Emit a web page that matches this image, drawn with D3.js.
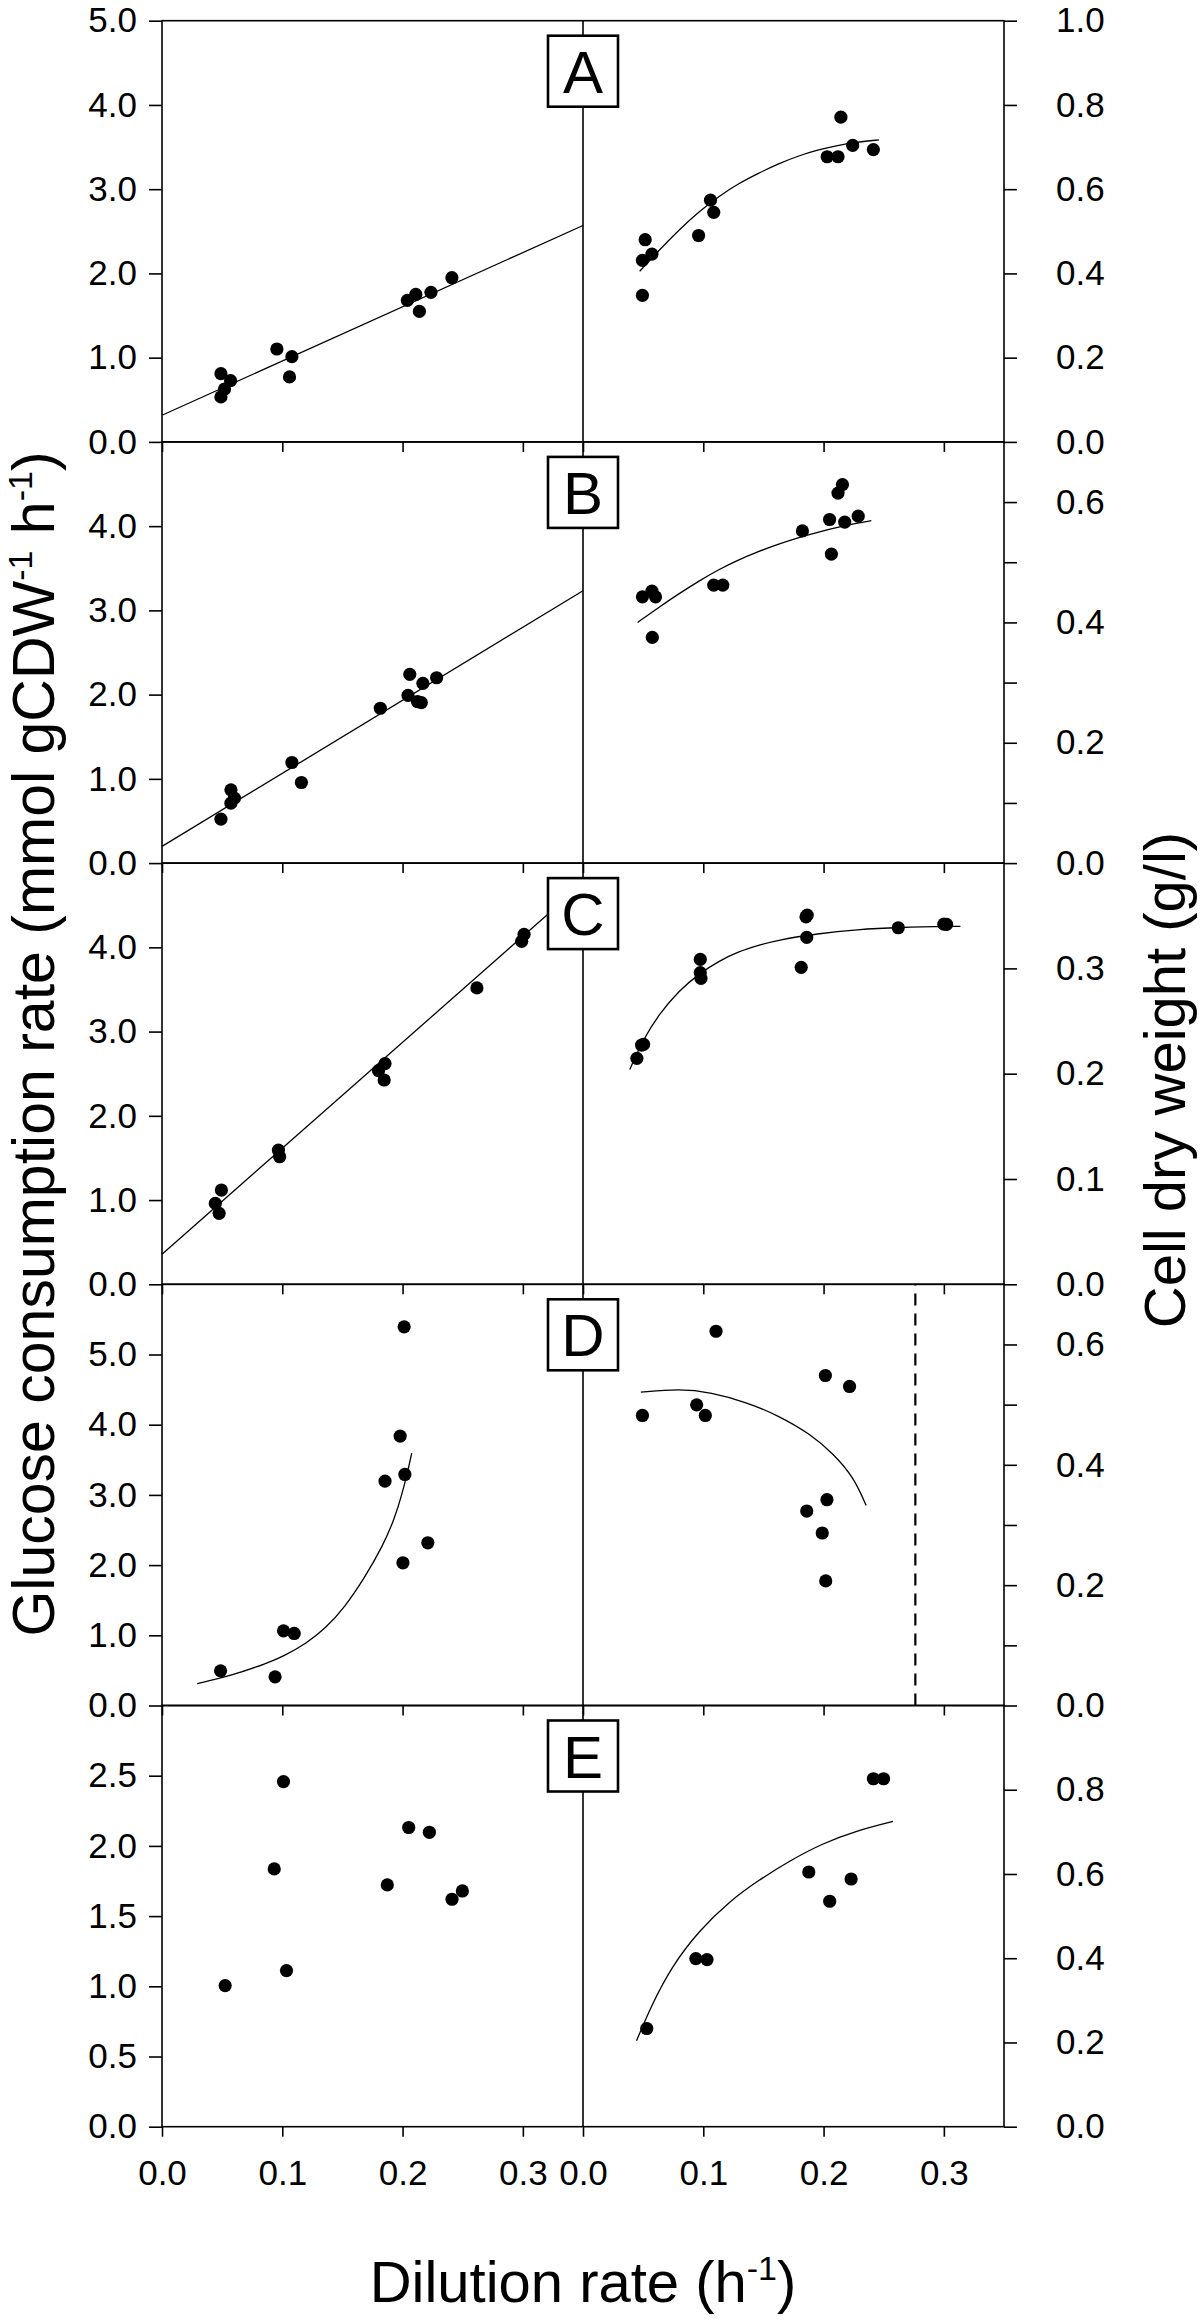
<!DOCTYPE html>
<html>
<head>
<meta charset="utf-8">
<script src="https://cdn.jsdelivr.net/npm/d3@7"></script>
<style>
  body { margin: 0; background: #fff; }
  svg { display: block; font-family: "Liberation Sans", Arial, sans-serif; }
</style>
</head>
<body>
<svg id="chart" width="1200" height="2322"></svg>
<script>
// dilution rate ticks (both halves of every panel)
const D_TICKS = [0, 0.1, 0.2, 0.3];

// left axis: glucose consumption rate ticks per panel
const qTicksA = [0, 1, 2, 3, 4, 5];
const qTicksB = [0, 1, 2, 3, 4];
const qTicksC = [0, 1, 2, 3, 4];
const qTicksD = [0, 1, 2, 3, 4, 5];
const qTicksE = [0, 0.5, 1, 1.5, 2, 2.5];

// right axis: cell dry weight ticks per panel
const cdwTicksA = [0, 0.2, 0.4, 0.6, 0.8, 1.0];
const cdwTicksB = [0, 0.2, 0.4, 0.6];
const cdwMinorB = [0.1, 0.3, 0.5];
const cdwTicksC = [0, 0.1, 0.2, 0.3];
const cdwTicksD = [0, 0.2, 0.4, 0.6];
const cdwMinorD = [0.1, 0.3, 0.5];
const cdwTicksE = [0, 0.2, 0.4, 0.6, 0.8];

// panel A
const qA = [[0.049, 0.81], [0.057, 0.727], [0.052, 0.628], [0.049, 0.534], [0.0955, 1.103],
  [0.108, 1.012], [0.106, 0.771], [0.204, 1.68], [0.211, 1.751], [0.214, 1.549],
  [0.2236, 1.775], [0.241, 1.949]];
const cdwA = [[0.0494, 0.348], [0.0494, 0.431], [0.0517, 0.48], [0.0573, 0.446], [0.0961, 0.49],
  [0.106, 0.574], [0.1087, 0.545], [0.203, 0.677], [0.212, 0.677], [0.2144, 0.771],
  [0.2242, 0.704], [0.2414, 0.694]];
const qFitA = [[0, 0.316], [0.35, 2.569]];
const cdwFitA = [[0.0471, 0.405], [0.0636, 0.456], [0.08, 0.504], [0.0965, 0.547], [0.113, 0.583],
  [0.129, 0.613], [0.146, 0.638], [0.162, 0.66], [0.179, 0.679], [0.195, 0.693],
  [0.2117, 0.704], [0.228, 0.712], [0.246, 0.717]];

// panel B
const qB = [[0.049, 0.522], [0.0573, 0.87], [0.0573, 0.711], [0.0602, 0.771], [0.108, 1.194],
  [0.1159, 0.957], [0.1815, 1.838], [0.2045, 1.992], [0.206, 2.241], [0.2124, 1.917],
  [0.2156, 1.905], [0.2169, 2.134], [0.2283, 2.2]];
const cdwB = [[0.0494, 0.4425], [0.0573, 0.452], [0.0603, 0.4425], [0.0576, 0.375], [0.1087, 0.462],
  [0.1162, 0.462], [0.1824, 0.552], [0.205, 0.571], [0.2065, 0.5135], [0.212, 0.615],
  [0.2157, 0.629], [0.2176, 0.5667], [0.2288, 0.5766]];
const qFitB = [[0, 0.198], [0.35, 3.233]];
const cdwFitB = [[0.0454, 0.4], [0.0636, 0.426], [0.08, 0.448], [0.0965, 0.469], [0.113, 0.488],
  [0.129, 0.504], [0.146, 0.518], [0.162, 0.53], [0.179, 0.541], [0.195, 0.55],
  [0.2117, 0.558], [0.228, 0.565], [0.2397, 0.569]];

// panel C
const qC = [[0.0443, 0.96], [0.0494, 1.119], [0.0475, 0.842], [0.0968, 1.593], [0.0978, 1.514],
  [0.18, 2.536], [0.1854, 2.62], [0.1847, 2.425], [0.2618, 3.518], [0.299, 4.071], [0.301, 4.154]];
const cdwC = [[0.0448, 0.2146], [0.0487, 0.2272], [0.0504, 0.2278], [0.0975, 0.3085], [0.0975, 0.2959],
  [0.0981, 0.2905], [0.1814, 0.301], [0.1854, 0.349], [0.1864, 0.3506], [0.186, 0.3294],
  [0.2621, 0.3386], [0.3, 0.342], [0.3023, 0.3418]];
const qFitC = [[0, 0.356], [0.35, 4.76]];
const cdwFitC = [[0.0389, 0.204], [0.0504, 0.2335], [0.0636, 0.257], [0.08, 0.279], [0.0965, 0.295],
  [0.113, 0.307], [0.129, 0.3158], [0.146, 0.322], [0.162, 0.327], [0.195, 0.333],
  [0.228, 0.337], [0.261, 0.339], [0.3138, 0.34]];

// panel D
const qD = [[0.0487, 0.494], [0.094, 0.408], [0.101, 1.064], [0.1099, 1.026], [0.1854, 3.197],
  [0.198, 3.838], [0.2019, 3.291], [0.2013, 5.394], [0.2003, 2.033], [0.221, 2.318]];
const cdwD = [[0.0494, 0.482], [0.0945, 0.4997], [0.1017, 0.482], [0.1106, 0.622], [0.2015, 0.5484],
  [0.2216, 0.5302], [0.186, 0.3232], [0.2028, 0.342], [0.1989, 0.2867], [0.2018, 0.207]];
const qFitD = [[0.0293, 0.313], [0.0564, 0.418], [0.0882, 0.608], [0.1, 0.693], [0.12, 0.883],
  [0.136, 1.1], [0.1519, 1.4], [0.1678, 1.8], [0.1838, 2.28], [0.1933, 2.66],
  [0.1997, 3.02], [0.2045, 3.35], [0.2076, 3.594]];
const cdwFitD = [[0.0481, 0.5207], [0.08, 0.5263], [0.1064, 0.5207], [0.136, 0.504], [0.1623, 0.482],
  [0.1887, 0.4516], [0.2084, 0.418], [0.2249, 0.3796], [0.2354, 0.3326]];
const washoutD = 0.2763;

// panel E
const qE = [[0.0525, 1.005], [0.0933, 1.836], [0.101, 2.458], [0.1035, 1.112], [0.1873, 1.722],
  [0.2051, 2.131], [0.2223, 2.097], [0.2411, 1.62], [0.2497, 1.679]];
const cdwE = [[0.053, 0.2332], [0.0938, 0.3992], [0.1031, 0.3968], [0.1877, 0.6047], [0.2051, 0.5352],
  [0.2229, 0.5881], [0.2414, 0.8261], [0.2499, 0.8261]];
const cdwFitE = [[0.0445, 0.204], [0.057, 0.2885], [0.0734, 0.379], [0.0965, 0.466], [0.1228, 0.5375],
  [0.1459, 0.585], [0.1722, 0.632], [0.1986, 0.672], [0.2282, 0.7036], [0.2578, 0.725]];

const panels = [
  { id: "A", qMax: 5, cdwMax: 1.0, qTicks: qTicksA, cdwTicks: cdwTicksA, cdwMinor: [],
    q: qA, cdw: cdwA, qFit: qFitA, cdwFit: cdwFitA },
  { id: "B", qMax: 5, cdwMax: 0.7, qTicks: qTicksB, cdwTicks: cdwTicksB, cdwMinor: cdwMinorB,
    q: qB, cdw: cdwB, qFit: qFitB, cdwFit: cdwFitB },
  { id: "C", qMax: 5, cdwMax: 0.4, qTicks: qTicksC, cdwTicks: cdwTicksC, cdwMinor: [],
    q: qC, cdw: cdwC, qFit: qFitC, cdwFit: cdwFitC },
  { id: "D", qMax: 6, cdwMax: 0.7, qTicks: qTicksD, cdwTicks: cdwTicksD, cdwMinor: cdwMinorD,
    q: qD, cdw: cdwD, qFit: qFitD, cdwFit: cdwFitD, washout: washoutD },
  { id: "E", qMax: 3, cdwMax: 1.0, qTicks: qTicksE, cdwTicks: cdwTicksE, cdwMinor: [],
    q: qE, cdw: cdwE, qFit: null, cdwFit: cdwFitE },
];

const X_LEFT = 162;
const X_MID = 583;
const X_RIGHT = 1004;
const TOP = 20.7;
const PANEL_H = 421.2;
const TICK_FONT = 35;
const SUP_SHIFT = 22;

const svg = d3.select("#chart");
const xLeft = d3.scaleLinear().domain([0, 0.35]).range([X_LEFT, X_MID]);
const xRight = d3.scaleLinear().domain([0, 0.35]).range([X_MID, X_RIGHT]);
const fmt = d3.format(".1f");

function styleAxis(sel) {
  sel.attr("font-size", null).attr("font-family", null);
  sel.select(".domain").remove();
  sel.selectAll(".tick line").attr("stroke", "#000").attr("stroke-width", 1.6);
  sel.selectAll(".tick text").attr("fill", "#000").style("font-size", TICK_FONT + "px");
}

function drawPanel(p, i) {
  const top = TOP + i * PANEL_H;
  const bottom = top + PANEL_H;
  const yQ = d3.scaleLinear().domain([0, p.qMax]).range([bottom, top]);
  const yCdw = d3.scaleLinear().domain([0, p.cdwMax]).range([bottom, top]);
  const g = svg.append("g").attr("id", "panel" + p.id);
  const last = i === panels.length - 1;

  // bottom ticks, labels only on the last panel
  [xLeft, xRight].forEach((xs) => {
    g.append("g")
      .attr("transform", `translate(0,${bottom})`)
      .call(d3.axisBottom(xs).tickValues(D_TICKS).tickSize(10).tickPadding(23)
        .tickFormat(last ? fmt : ""))
      .call(styleAxis);
  });

  g.append("g")
    .attr("transform", `translate(${X_LEFT},0)`)
    .call(d3.axisLeft(yQ).tickValues(p.qTicks).tickSize(13).tickPadding(12).tickFormat(fmt))
    .call(styleAxis);

  g.append("g")
    .attr("transform", `translate(${X_RIGHT},0)`)
    .call(d3.axisRight(yCdw).tickValues(p.cdwTicks).tickSize(13).tickPadding(39).tickFormat(fmt))
    .call(styleAxis);

  if (p.cdwMinor.length) {
    g.append("g")
      .attr("transform", `translate(${X_RIGHT},0)`)
      .call(d3.axisRight(yCdw).tickValues(p.cdwMinor).tickSize(13).tickFormat(""))
      .call(styleAxis);
  }

  // frame and the divider between the two halves
  g.append("rect")
    .attr("x", X_LEFT).attr("y", top)
    .attr("width", X_RIGHT - X_LEFT).attr("height", PANEL_H)
    .attr("fill", "none").attr("stroke", "#000").attr("stroke-width", 1.6);
  g.append("line")
    .attr("x1", X_MID).attr("x2", X_MID).attr("y1", top).attr("y2", bottom)
    .attr("stroke", "#000").attr("stroke-width", 1.6);

  if (p.washout) {
    g.append("line")
      .attr("x1", xRight(p.washout)).attr("x2", xRight(p.washout))
      .attr("y1", bottom).attr("y2", top)
      .attr("stroke", "#000").attr("stroke-width", 2.2)
      .attr("stroke-dasharray", "12,8");
  }

  const qLine = d3.line().x((d) => xLeft(d[0])).y((d) => yQ(d[1])).curve(d3.curveBasis);
  const cdwLine = d3.line().x((d) => xRight(d[0])).y((d) => yCdw(d[1])).curve(d3.curveBasis);

  if (p.qFit) {
    g.append("path").attr("d", qLine(p.qFit))
      .attr("fill", "none").attr("stroke", "#000").attr("stroke-width", 1.3);
  }
  if (p.cdwFit) {
    g.append("path").attr("d", cdwLine(p.cdwFit))
      .attr("fill", "none").attr("stroke", "#000").attr("stroke-width", 1.3);
  }

  g.append("g").selectAll("circle").data(p.q).join("circle")
    .attr("cx", (d) => xLeft(d[0])).attr("cy", (d) => yQ(d[1])).attr("r", 6.6).attr("fill", "#000");
  g.append("g").selectAll("circle").data(p.cdw).join("circle")
    .attr("cx", (d) => xRight(d[0])).attr("cy", (d) => yCdw(d[1])).attr("r", 6.6).attr("fill", "#000");

  // panel letter box
  const boxW = 70, boxH = 71, boxTop = top + 15;
  g.append("rect")
    .attr("x", X_MID - boxW / 2).attr("y", boxTop)
    .attr("width", boxW).attr("height", boxH)
    .attr("fill", "#fff").attr("stroke", "#000").attr("stroke-width", 2.6);
  g.append("text")
    .attr("x", X_MID).attr("y", boxTop + boxH / 2)
    .attr("dy", "0.36em")
    .attr("text-anchor", "middle")
    .style("font-size", "60px")
    .text(p.id);
}

panels.forEach(drawPanel);

// axis titles, superscripts shifted by a fixed pixel amount
function sup(text, s) {
  text.append("tspan").attr("dy", -SUP_SHIFT).style("font-size", "34px").text(s);
}

const leftTitle = svg.append("text")
  .attr("transform", "translate(54,1044) rotate(-90)")
  .attr("text-anchor", "middle")
  .style("font-size", "59px");
leftTitle.append("tspan").text("Glucose consumption rate (mmol gCDW");
sup(leftTitle, "-1");
leftTitle.append("tspan").attr("dy", SUP_SHIFT).text(" h");
sup(leftTitle, "-1");
leftTitle.append("tspan").attr("dy", SUP_SHIFT).text(")");

svg.append("text")
  .attr("transform", "translate(1185,1080) rotate(-90)")
  .attr("text-anchor", "middle")
  .style("font-size", "58px")
  .text("Cell dry weight (g/l)");

const bottomTitle = svg.append("text")
  .attr("x", X_MID).attr("y", 2302)
  .attr("text-anchor", "middle")
  .style("font-size", "58px");
bottomTitle.append("tspan").text("Dilution rate (h");
sup(bottomTitle, "-1");
bottomTitle.append("tspan").attr("dy", SUP_SHIFT).text(")");
</script>
</body>
</html>
